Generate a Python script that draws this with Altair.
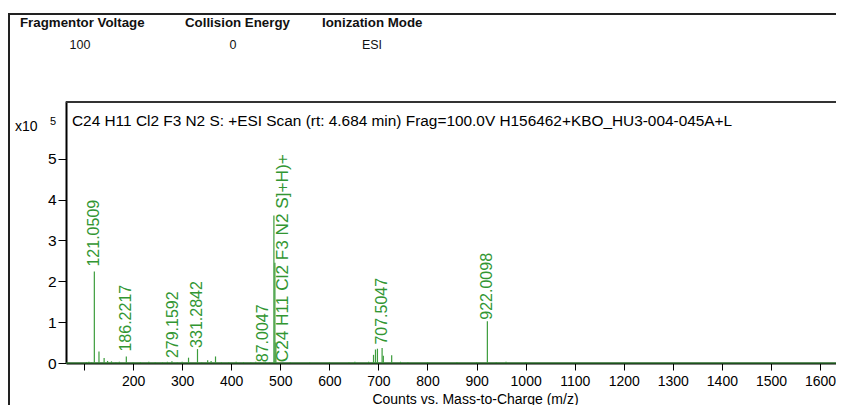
import altair as alt
import pandas as pd

# ---------------- data ----------------
peak_mz = [105, 110, 115, 121.05, 130.5, 141, 148, 156, 165, 172, 186.22, 200, 215, 232, 245,
           260, 270, 279.16, 290, 300, 313, 331.28, 340, 352, 359, 368, 380, 395, 410, 425,
           440, 450, 460, 470, 478, 487.00, 489.00, 491.00, 520, 560, 600, 640, 652, 680,
           690, 694, 698, 707.50, 710, 727, 745, 760, 800, 860, 900, 922.01, 940, 960, 1000]
peak_int = [0.02, 0.03, 0.02, 2.24, 0.28, 0.12, 0.05, 0.04, 0.02, 0.03, 0.16, 0.02, 0.02, 0.03, 0.02,
            0.02, 0.03, 0.04, 0.02, 0.03, 0.13, 0.34, 0.02, 0.07, 0.05, 0.16, 0.02, 0.02, 0.03, 0.02,
            0.02, 0.03, 0.02, 0.03, 0.02, 3.61, 2.45, 0.50, 0.02, 0.02, 0.02, 0.02, 0.03, 0.03,
            0.20, 0.33, 0.35, 0.37, 0.18, 0.19, 0.03, 0.02, 0.02, 0.02, 0.02, 1.02, 0.02, 0.03, 0.02]

label_text = ["121.0509", "186.2217", "279.1592", "331.2842", "87.0047", "707.5047", "922.0098"]
label_mz = [121.05, 186.22, 281.0, 330.5, 465.0, 707.0, 922.01]
label_y = [2.36, 0.28, 0.12, 0.37, 0.02, 0.45, 1.06]

formula_text = ["C24 H11 Cl2 F3 N2 S]+H)+"]
formula_mz = [506.0]
formula_y = [0.02]

header_names = ["Fragmentor Voltage", "Collision Energy", "Ionization Mode"]
header_values = ["100", "0", "ESI"]

title_text = "C24 H11 Cl2 F3 N2 S: +ESI Scan (rt: 4.684 min) Frag=100.0V H156462+KBO_HU3-004-045A+L"
x_title = "Counts vs. Mass-to-Charge (m/z)"
x_ticks = list(range(100, 1700, 100))
y_ticks = [0, 1, 2, 3, 4, 5]

# ---------------- layout ----------------
W, H = 770, 262
X0, Y0 = 66, 101  # plot origin on page
XMIN, XMAX = 63.3, 1632.5
YMIN, YMAX = 0, 6.41
FONT = "Liberation Sans"
GREEN_LINE = "#3c9c3c"
GREEN_TEXT = "#329632"

peaks = pd.DataFrame({"mz": peak_mz, "inten": peak_int})
labels = pd.DataFrame({"text": label_text, "mz": label_mz, "y": label_y})
formula = pd.DataFrame({"text": formula_text, "mz": formula_mz, "y": formula_y})

xs = alt.Scale(domain=[XMIN, XMAX], nice=False, zero=False)
ys = alt.Scale(domain=[YMIN, YMAX], nice=False)

xaxis = alt.Axis(values=x_ticks, format="d", labelExpr="datum.value == 100 ? '' : datum.label",
                 grid=False, tickSize=7, tickColor="black", domainColor="black", domainWidth=2,
                 labelFont=FONT, labelFontSize=14, labelColor="black", labelPadding=4,
                 labelFlush=False, labelOverlap=False,
                 title=x_title, titleFont=FONT, titleFontSize=14, titleFontWeight="normal",
                 titleColor="black", titleX=409, titleY=40, titleBaseline="alphabetic")
yaxis = alt.Axis(values=y_ticks, grid=False, tickSize=8, tickColor="black", domainColor="black",
                 domainWidth=2, labelFont=FONT, labelFontSize=15.5, labelColor="black",
                 labelPadding=2, title=None)

sticks = alt.Chart(peaks).mark_rule(color=GREEN_LINE, strokeWidth=1.2).encode(
    x=alt.X("mz:Q", scale=xs, axis=xaxis),
    y=alt.Y("inten:Q", scale=ys, axis=yaxis),
    y2=alt.datum(0),
)

base_line = alt.Chart(pd.DataFrame({"a": [0]})).mark_rule(color=GREEN_LINE, strokeWidth=1.2).encode(
    y=alt.datum(0), x=alt.value(0), x2=alt.value(W)
)

label_marks = alt.Chart(labels).mark_text(
    angle=270, align="left", baseline="middle", font=FONT, fontSize=16, color=GREEN_TEXT
).encode(
    x=alt.X("mz:Q"),
    y=alt.Y("y:Q"),
    text="text:N",
)

formula_mark = alt.Chart(formula).mark_text(
    angle=270, align="left", baseline="middle", font=FONT, fontSize=17.2, color=GREEN_TEXT
).encode(
    x=alt.X("mz:Q"),
    y=alt.Y("y:Q"),
    text="text:N",
)

def seg(x1, x2, y1, y2, w, color="#222222"):
    return alt.Chart(pd.DataFrame({"a": [0]})).mark_rule(color=color, strokeWidth=w).encode(
        x=alt.value(x1), x2=alt.value(x2), y=alt.value(y1), y2=alt.value(y2))

def txt(s, px, py, size, align="left", weight="normal", color="#111111"):
    return alt.Chart(pd.DataFrame({"a": [0]})).mark_text(
        align=align, baseline="middle", font=FONT, fontSize=size, fontWeight=weight, color=color,
        text=s
    ).encode(x=alt.value(px - X0), y=alt.value(py - Y0))

top_frame = seg(0, W, 1, 1, 2, "#333333")
line_14 = seg(-58, W, -87, -87, 2)
line_left = seg(-57, -57, -87, 320, 2)

hdr_x = [20, 185, 322]
val_x = [80, 233, 372]
texts = []
for name, hx in zip(header_names, hdr_x):
    texts.append(txt(name, hx, 23, 13.3, weight="bold"))
for v, vx in zip(header_values, val_x):
    texts.append(txt(v, vx, 45, 12.5, align="center"))
texts.append(txt(title_text, 72, 121, 15.4, color="black"))
texts.append(txt("x10", 15, 127, 14, color="black"))
texts.append(txt("5", 50, 122, 11, color="black"))

chart = alt.layer(
    sticks, base_line, label_marks, formula_mark, top_frame, line_14, line_left, *texts
).properties(
    width=W, height=H,
    autosize=alt.AutoSizeParams(type="none"),
    padding={"left": X0 - 8, "top": Y0 - 8, "right": 0, "bottom": 42},
    background="white",
).configure_view(stroke=None)

chart.save("out.html", embed_options={"renderer": "svg", "actions": False})
